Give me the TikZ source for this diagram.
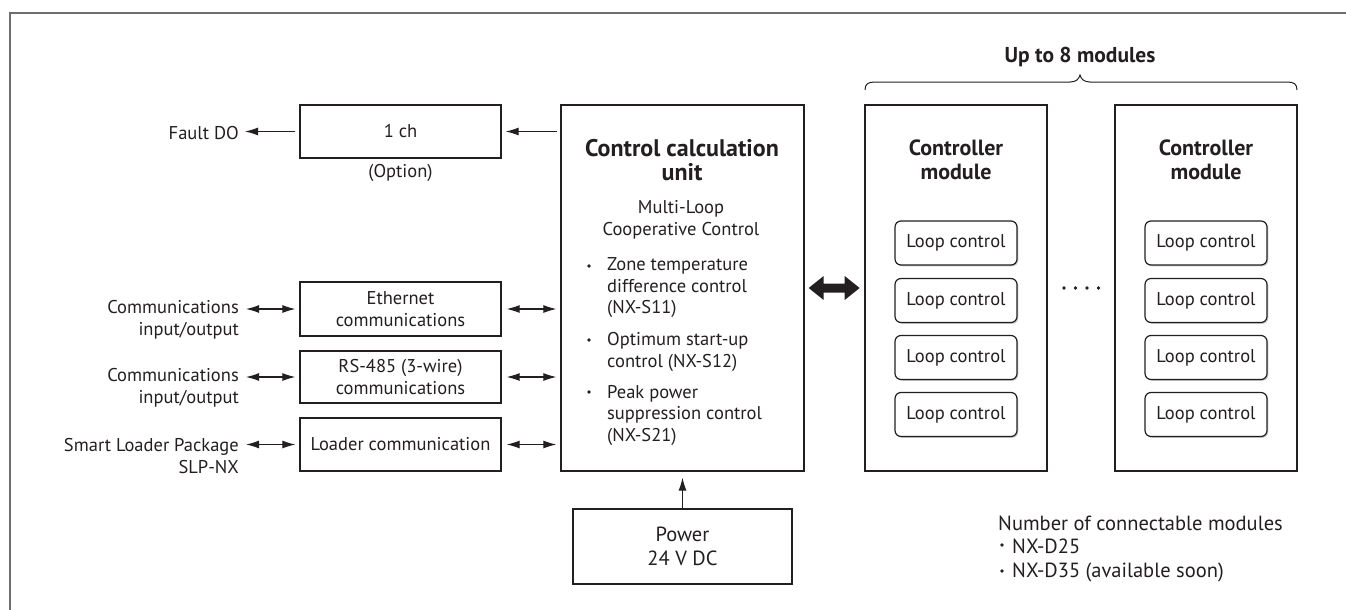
\documentclass[tikz,border=0pt]{standalone}
\usepackage{fontspec}
\setmainfont{PT Sans}
\usetikzlibrary{arrows.meta,shadows,calc}
\definecolor{ink}{RGB}{35,31,32}
\definecolor{framegray}{RGB}{110,110,110}
\newcommand\fsz[2]{\fontsize{#1}{#2}\selectfont}
\begin{document}
\begin{tikzpicture}[x=1pt,y=-1pt,inner sep=0pt,text=ink,font=\fsz{18.5}{21.5},
  box/.style={draw=ink,line width=1.3pt,align=center},
  loopbox/.style={draw=ink,line width=1.2pt,rounded corners=6pt,fill=white,
    minimum width=122pt,minimum height=44pt,
    drop shadow={shadow xshift=1.3pt,shadow yshift=-1.3pt,opacity=0.35,fill=black!60}},
  ttl/.style={font=\bfseries\fsz{22}{24},align=center},
  big/.style={font=\fsz{20.5}{24}},
  dot/.style={circle,fill=ink,minimum size=3.6pt},
  arr/.style={draw=ink,line width=1.1pt,-{Latex[length=13pt,width=8pt]}},
  dbl/.style={draw=ink,line width=1.1pt,{Latex[length=13pt,width=8pt]}-{Latex[length=13pt,width=8pt]}}]
\useasboundingbox (0,0) rectangle (1346,610);
\draw[framegray,line width=1.5pt] (10,610) -- (10,13) -- (1346,13);

% left column boxes
\node[box,minimum width=201pt,minimum height=53pt] (onech) at (400.5,131.5) {1 ch};
\node (opt) at (400.5,173) {(Option)};
\node[anchor=east] (fault) at (239,133) {Fault DO};

\node[box,minimum width=201pt,minimum height=54pt] (eth) at (400.5,309) {Ethernet\\communications};
\node[box,minimum width=201pt,minimum height=52pt] (rs) at (400.5,377) {RS-485 (3-wire)\\communications};
\node[box,minimum width=201pt,minimum height=53pt] (ldr) at (400.5,444.5) {Loader communication};

\node[anchor=east,align=right] (lab1) at (239,320) {Communications\\input/output};
\node[anchor=east,align=right] (lab2) at (239,388) {Communications\\input/output};
\node[anchor=east,align=right] (lab3) at (239,456) {Smart Loader Package\\SLP-NX};

% control calculation unit
\node[box,minimum width=243pt,minimum height=366pt] (ccu) at (682.5,288) {};
\node[ttl,font=\bfseries\fsz{24}{24}] (ccut) at (682,160) {Control calculation\\unit};
\node[align=center] (mlcc) at (681,220) {Multi-Loop\\Cooperative Control};
\node[anchor=west,align=left] (b1) at (607,288) {Zone temperature\\difference control\\(NX-S11)};
\node[anchor=west,align=left] (b2) at (607,352) {Optimum start-up\\control (NX-S12)};
\node[anchor=west,align=left] (b3) at (607,415) {Peak power\\suppression control\\(NX-S21)};
\node[dot] (d1) at (589,266) {};
\node[dot] (d2) at (589,340) {};
\node[dot] (d3) at (589,392) {};

% power
\node[box,big,minimum width=219pt,minimum height=75pt] (pwr) at (682.5,546.5) {Power\\24 V DC};

% controller modules
\node[box,minimum width=182pt,minimum height=366pt] (m1) at (956,288) {};
\node[box,minimum width=182pt,minimum height=366pt] (m2) at (1206,288) {};
\node[ttl] (m1t) at (956,160) {Controller\\module};
\node[ttl] (m2t) at (1206,160) {Controller\\module};
\foreach \m/\x in {1/956,2/1206}{
  \node[loopbox] (lc\m a) at (\x,243) {Loop control};
  \node[loopbox] (lc\m b) at (\x,300.5) {Loop control};
  \node[loopbox] (lc\m c) at (\x,357.5) {Loop control};
  \node[loopbox] (lc\m d) at (\x,414.5) {Loop control};
}
\foreach \x in {1064,1075.5,1087,1098.5} \fill[ink] (\x,288) circle (1.8);

% brace
\draw[ink,line width=1pt] (865,90) .. controls (865,84) and (868,82) .. (875,82) -- (1070,82)
  .. controls (1076,82) and (1079,79) .. (1080,75) .. controls (1081,79) and (1084,82) .. (1090,82)
  -- (1287,82) .. controls (1294,82) and (1297,84) .. (1297,90);
\node[ttl,font=\bfseries\fsz{21.5}{24}] (upto) at (1080,57) {Up to 8 modules};

% notes
\node[big,anchor=west] (num) at (998,523) {Number of connectable modules};
\node[dot] (bu1) at (1002,545) {};
\node[dot] (bu2) at (1002,571) {};
\node[big,anchor=west] (nx1) at (1012,546) {NX-D25};
\node[big,anchor=west] (nx2) at (1012,572) {NX-D35 (available soon)};

% connectors
\draw[arr,shorten <=3pt,shorten >=4pt] (onech.east -| ccu.west) -- (onech.east);
\draw[arr,shorten <=4pt,shorten >=6pt] (onech.west) -- (onech.west -| fault.east);
\foreach \b/\l in {eth/lab1,rs/lab2,ldr/lab3}{
  \draw[dbl,shorten <=7pt,shorten >=4pt] (\b.west -| \l.east) -- (\b.west);
  \draw[dbl,shorten <=5pt,shorten >=4pt] (\b.east) -- (\b.east -| ccu.west);
}
\draw[arr,shorten >=6pt] (pwr.north) -- (pwr.north |- ccu.south);
\begin{scope}[shift={(ccu.east)}]
\fill[ink] (4,0) -- (19,-12) -- (19,-4.5) -- (40,-4.5) -- (40,-12) -- (55,0)
  -- (40,12) -- (40,4.5) -- (19,4.5) -- (19,12) -- cycle;
\end{scope}
\end{tikzpicture}
\end{document}
